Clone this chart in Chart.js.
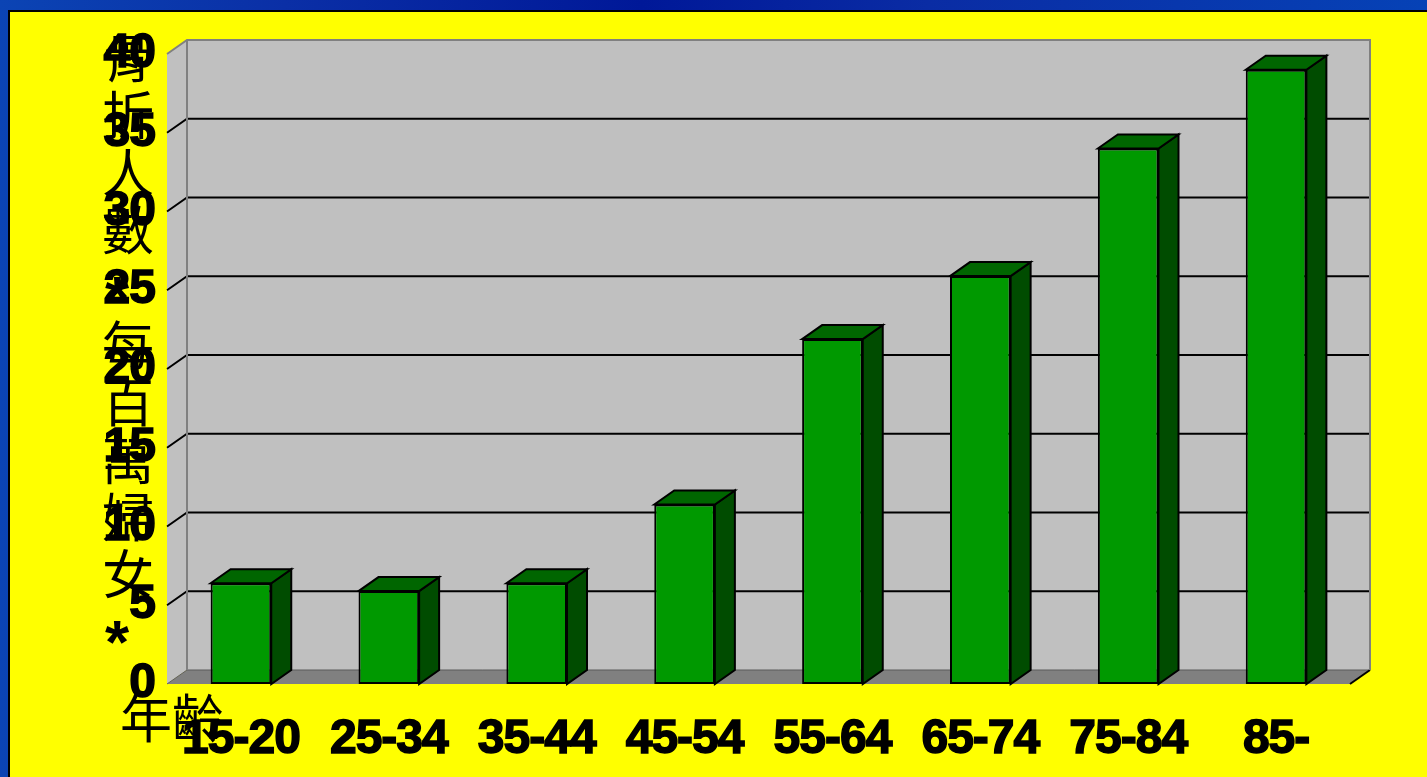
<!DOCTYPE html>
<html>
<head>
<meta charset="utf-8">
<title>骨折人數</title>
<script src="https://cdn.jsdelivr.net/npm/chart.js@4.4.1/dist/chart.umd.min.js"></script>
<style>
  html, body { margin: 0; padding: 0; }
  body {
    width: 1427px; height: 777px; overflow: hidden; position: relative;
    background: linear-gradient(90deg, #0b44b4 0%, #0a2fa6 20%, #001898 45%, #0a2ca4 65%, #0642b6 100%);
  }
  #panel {
    position: absolute; left: 8px; top: 10px; right: 0; bottom: 0;
    background: #ffff00;
    border-left: 2px solid #000; border-top: 2px solid #000;
  }
  #chart { position: absolute; left: 0; top: 0; }
</style>
</head>
<body>
<div id="panel"></div>
<canvas id="chart" width="1427" height="777"></canvas>
<script>
// ===== data =====
const ageGroups = ['15-20', '25-34', '35-44', '45-54', '55-64', '65-74', '75-84', '85-'];
const fracturesPerMillion = [6.4, 5.9, 6.4, 11.4, 21.9, 25.9, 34.0, 39.0];
const yTicks = [0, 5, 10, 15, 20, 25, 30, 35, 40];
const yTitleChars = ['骨', '折', '人', '數', '*', '每', '百', '萬', '婦', '女', '*'];
const xTitle = '年齡';

// depth of the 3D box (back plane offset)
const DEPTH_X = 20;
const DEPTH_Y = -14;

const COLORS = {
  wall: '#c0c0c0',
  floor: '#808080',
  edge: '#808080',
  front: '#009900',
  top: '#006600',
  side: '#004c00',
};

const TICK_FONT = { family: "'Liberation Sans', Arial, sans-serif", size: 48, weight: 'bold' };
const CJK_FONT = "52px 'Noto Sans CJK TC', sans-serif";
const STAR_FONT = "bold 62px 'Liberation Sans', Arial, sans-serif";

function poly(ctx, pts, fill, stroke, lw) {
  ctx.beginPath();
  ctx.moveTo(pts[0][0], pts[0][1]);
  for (let i = 1; i < pts.length; i++) ctx.lineTo(pts[i][0], pts[i][1]);
  ctx.closePath();
  if (fill) { ctx.fillStyle = fill; ctx.fill(); }
  if (stroke) { ctx.strokeStyle = stroke; ctx.lineWidth = lw || 1; ctx.stroke(); }
}

function line(ctx, pts, color, lw) {
  ctx.beginPath();
  ctx.moveTo(pts[0][0], pts[0][1]);
  for (let i = 1; i < pts.length; i++) ctx.lineTo(pts[i][0], pts[i][1]);
  ctx.strokeStyle = color;
  ctx.lineWidth = lw;
  ctx.stroke();
}

// walls, floor, gridlines and the 3D bar faces
const box3d = {
  id: 'box3d',
  beforeDraw(chart) {
    chart.ctx.letterSpacing = '-1px';
  },
  beforeDatasetsDraw(chart) {
    const { ctx, chartArea: a } = chart;
    const y = chart.scales.y;
    const dx = DEPTH_X, dy = DEPTH_Y;
    ctx.save();
    ctx.lineJoin = 'miter';
    // back wall
    ctx.fillStyle = COLORS.wall;
    ctx.fillRect(a.left + dx, a.top + dy, a.right - a.left, a.bottom - a.top);
    // left wall
    poly(ctx, [[a.left, a.top], [a.left + dx, a.top + dy], [a.left + dx, a.bottom + dy], [a.left, a.bottom]], COLORS.wall);
    // floor
    poly(ctx, [[a.left, a.bottom], [a.left + dx, a.bottom + dy], [a.right + dx, a.bottom + dy], [a.right, a.bottom]], COLORS.floor);
    line(ctx, [[a.left + dx, a.bottom + dy], [a.right + dx, a.bottom + dy]], '#5a5a5a', 1);
    line(ctx, [[a.right, a.bottom], [a.right + dx, a.bottom + dy]], '#000', 2);
    line(ctx, [[a.left, a.bottom], [a.left + dx, a.bottom + dy]], '#606060', 1);
    // gridlines on the back wall
    yTicks.forEach(v => {
      if (v <= y.min || v >= y.max) return;
      const py = y.getPixelForValue(v);
      line(ctx, [[a.left, py], [a.left + dx, py + dy], [a.right + dx, py + dy]], '#000', 2);
    });
    // wall edges
    line(ctx, [[a.left, a.top], [a.left + dx, a.top + dy], [a.right + dx, a.top + dy], [a.right + dx, a.bottom + dy]], COLORS.edge, 2);
    line(ctx, [[a.left + dx, a.top + dy], [a.left + dx, a.bottom + dy]], COLORS.edge, 2);
    ctx.restore();
  },
  afterDatasetsDraw(chart) {
    const { ctx } = chart;
    const dx = DEPTH_X, dy = DEPTH_Y;
    ctx.save();
    ctx.lineJoin = 'miter';
    chart.getDatasetMeta(0).data.forEach(bar => {
      const x0 = bar.x - bar.width / 2;
      const x1 = bar.x + bar.width / 2;
      const yt = bar.y, yb = bar.base;
      poly(ctx, [[x1, yt], [x1 + dx, yt + dy], [x1 + dx, yb + dy], [x1, yb]], COLORS.side, '#000', 2);
      poly(ctx, [[x0, yt], [x0 + dx, yt + dy], [x1 + dx, yt + dy], [x1, yt]], COLORS.top, '#000', 2);
    });
    ctx.restore();
  },
  afterDraw(chart) {
    const { ctx, chartArea: a } = chart;
    ctx.save();
    ctx.letterSpacing = '0px';
    ctx.fillStyle = '#000';
    ctx.textBaseline = 'middle';
    // vertical axis title, one character per row
    ctx.textAlign = 'center';
    yTitleChars.forEach((ch, i) => {
      const cy = a.top + 4 + i * 57.4;
      if (ch === '*') {
        // the latin asterisk sits high in its em box, pull it down
        ctx.font = STAR_FONT;
        ctx.fillText(ch, a.left - 50, cy + 14);
      } else {
        ctx.font = CJK_FONT;
        ctx.fillText(ch, a.left - 39, cy);
      }
    });
    // horizontal axis title
    ctx.font = CJK_FONT;
    ctx.textAlign = 'left';
    ctx.fillText(xTitle, a.left - 47, a.bottom + 34);
    ctx.restore();
  }
};

new Chart(document.getElementById('chart'), {
  type: 'bar',
  data: {
    labels: ageGroups,
    datasets: [{
      data: fracturesPerMillion,
      backgroundColor: COLORS.front,
      borderColor: '#000',
      borderWidth: 2,
      borderSkipped: false,
      barPercentage: 0.41,
      categoryPercentage: 1,
    }]
  },
  options: {
    responsive: false,
    animation: false,
    layout: { padding: { top: 54, right: 77, left: 0, bottom: 0 } },
    plugins: {
      legend: { display: false },
      tooltip: { enabled: false },
    },
    scales: {
      x: {
        grid: { display: false },
        border: { display: false },
        ticks: {
          color: '#000', font: TICK_FONT, padding: 19, maxRotation: 0, autoSkip: false,
          textStrokeColor: '#000', textStrokeWidth: 1.5
        },
        afterFit(s) { s.height = 93; }
      },
      y: {
        min: 0,
        max: 40,
        grid: { display: false },
        border: { display: false },
        ticks: {
          color: '#000', font: TICK_FONT, padding: 4,
          textStrokeColor: '#000', textStrokeWidth: 1.5
        },
        afterBuildTicks(s) { s.ticks = yTicks.map(v => ({ value: v })); },
        afterFit(s) { s.width = 167; }
      }
    }
  },
  plugins: [box3d]
});
</script>
</body>
</html>
